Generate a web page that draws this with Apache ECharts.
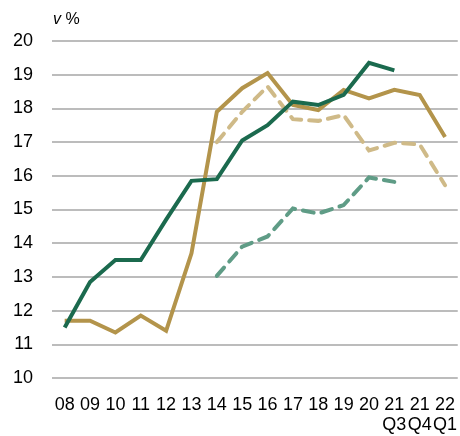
<!DOCTYPE html>
<html>
<head>
<meta charset="utf-8">
<script src="https://cdn.jsdelivr.net/npm/echarts@6/dist/echarts.min.js"></script>
<style>
  html, body { margin: 0; padding: 0; background: #fff; }
  #chart { width: 460px; height: 436px; }
</style>
</head>
<body>
<div id="chart"></div>
<script>
  // categories (last three are quarters)
  const years = ['08', '09', '10', '11', '12', '13', '14', '15', '16', '17', '18', '19', '20', '21\nQ3', '21\nQ4', '22\nQ1']
  const yTicks = [10, 20, 1]

  // series values
  const darkGreen = [11.5, 12.85, 13.5, 13.5, 14.7, 15.85, 15.9, 17.05, 17.5, 18.2, 18.1, 18.4, 19.35, 19.13, null, null]
  const gold = [11.7, 11.7, 11.35, 11.85, 11.4, 13.7, 17.9, 18.6, 19.05, 18.1, 17.95, 18.55, 18.3, 18.55, 18.4, 17.15]
  const goldDashed = [null, null, null, null, null, null, 17.0, 17.9, 18.65, 17.68, 17.63, 17.8, 16.75, 16.98, 16.93, 15.72]
  const greenDashed = [null, null, null, null, null, null, 13.03, 13.9, 14.2, 15.03, 14.88, 15.13, 15.95, 15.82, null, null]

  const font = '"Liberation Sans Narrow", "Liberation Sans", Arial, sans-serif'

  let chart = echarts.init(document.getElementById('chart'))

  function line(data, color, dashed) {
    return {
      type: 'line',
      data: data,
      symbol: 'none',
      connectNulls: false,
      lineStyle: {
        color: color,
        width: 4,
        type: dashed ? [11, 8] : 'solid',
        cap: dashed ? 'round' : 'butt',
        join: 'miter'
      },
      emphasis: { disabled: true },
      animation: false
    }
  }

  chart.setOption({
    grid: { left: 52, right: 0, top: 41, bottom: 58 },
    graphic: [{
      type: 'text',
      left: 53,
      top: 12,
      style: {
        text: '{i|v} %',
        font: '16px ' + font,
        fill: '#000',
        rich: { i: { fontStyle: 'italic', fontSize: 16, fontFamily: font } }
      }
    }],
    xAxis: {
      type: 'category',
      data: years,
      boundaryGap: true,
      axisLine: { show: false },
      axisTick: { show: false },
      axisLabel: {
        interval: 0,
        color: '#000',
        fontSize: 18,
        fontFamily: font,
        lineHeight: 20,
        margin: 17,
        verticalAlign: 'top'
      }
    },
    yAxis: {
      type: 'value',
      min: yTicks[0],
      max: yTicks[1],
      interval: yTicks[2],
      axisLine: { show: false },
      axisTick: { show: false },
      axisLabel: { color: '#000', fontSize: 18, fontFamily: font, margin: 19 },
      splitLine: { lineStyle: { color: '#a6a6a6', width: 1.5 } }
    },
    series: [
      line(greenDashed, '#5f9c86', true),
      line(goldDashed, '#cfba88', true),
      line(gold, '#b3944b', false),
      line(darkGreen, '#1b6a4e', false)
    ]
  })
</script>
</body>
</html>
